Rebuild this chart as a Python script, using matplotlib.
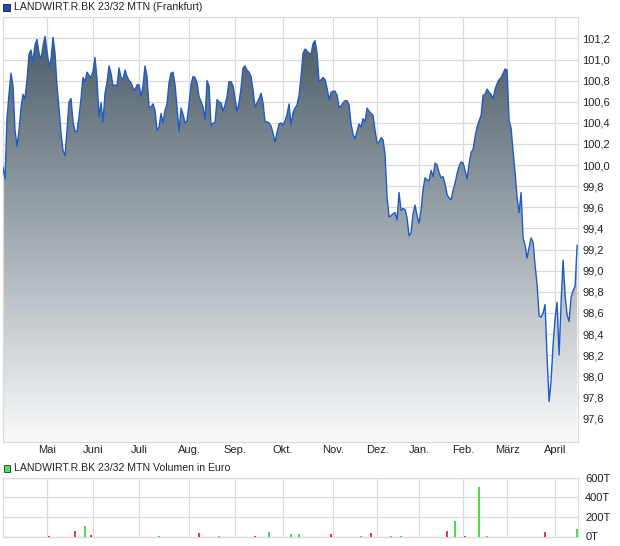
import numpy as np
import matplotlib
matplotlib.use("Agg")
import matplotlib.pyplot as plt
from matplotlib.patches import Rectangle

plt.rcParams['font.family'] = ['Liberation Sans', 'DejaVu Sans']

# ---------------- data ----------------
title_main = "LANDWIRT.R.BK 23/32 MTN (Frankfurt)"
title_vol = "LANDWIRT.R.BK 23/32 MTN Volumen in Euro"

price = [
    # Apr - May
    99.98, 99.87, 100.44, 100.67, 100.87, 100.75, 100.33, 100.18, 100.33, 100.54,
    100.67, 100.63, 100.81, 101.05, 101.09, 100.98, 101.14, 101.19, 101.06, 101.00,
    101.13, 101.22, 101.08, 100.94, 101.00, 101.21, 101.06, 100.75, 100.54, 100.30,
    100.14, 100.09, 100.33, 100.60, 100.63, 100.41, 100.32, 100.32, 100.46, 100.63,
    100.83, 100.79, 100.88, 100.85, 100.83, 100.89, 101.02, 100.81, 100.46,
    # Jun - Aug
    100.59, 100.41, 100.68, 100.78, 100.94, 100.87, 100.75, 100.76, 100.75, 100.92,
    100.83, 100.81, 100.90, 100.84, 100.80, 100.78, 100.73, 100.71, 100.76, 100.76,
    100.65, 100.75, 100.94, 100.84, 100.55, 100.55, 100.58, 100.52, 100.33, 100.36,
    100.49, 100.40, 100.52, 100.58, 100.78, 100.87, 100.88, 100.76, 100.55, 100.32,
    100.54, 100.48, 100.40, 100.42, 100.58, 100.76, 100.84, 100.83, 100.78, 100.65,
    # Aug - Oct
    100.60, 100.55, 100.43, 100.80, 100.75, 100.37, 100.40, 100.40, 100.62, 100.60,
    100.59, 100.51, 100.57, 100.65, 100.79, 100.79, 100.75, 100.63, 100.51, 100.59,
    100.73, 100.92, 100.94, 100.90, 100.88, 100.84, 100.71, 100.55, 100.59, 100.63,
    100.68, 100.59, 100.41, 100.41, 100.40, 100.37, 100.30, 100.22, 100.31, 100.39,
    100.40, 100.38, 100.42, 100.48, 100.58, 100.38, 100.50, 100.54, 100.57, 100.66,
    # Oct - Dec
    100.84, 101.06, 101.10, 101.08, 101.06, 101.05, 101.15, 101.18, 101.06, 100.79,
    100.81, 100.83, 100.81, 100.73, 100.62, 100.69, 100.70, 100.70, 100.66, 100.55,
    100.56, 100.59, 100.61, 100.61, 100.57, 100.39, 100.29, 100.25, 100.32, 100.39,
    100.36, 100.44, 100.41, 100.54, 100.51, 100.49, 100.47, 100.33, 100.21, 100.22,
    100.26, 100.24, 100.10, 99.70, 99.51, 99.52, 99.54, 99.55, 99.48, 99.74,
    # Dec - Feb
    99.57, 99.59, 99.58, 99.50, 99.33, 99.36, 99.54, 99.62, 99.52, 99.45,
    99.57, 99.77, 99.88, 99.86, 99.85, 99.95, 99.89, 100.02, 100.00, 99.93,
    99.88, 99.89, 99.82, 99.72, 99.69, 99.67, 99.76, 99.83, 99.92, 99.99,
    100.03, 100.02, 99.95, 99.87, 100.01, 100.12, 100.15, 100.27, 100.36, 100.42,
    100.47, 100.66, 100.67, 100.72, 100.69, 100.67, 100.63, 100.72, 100.77, 100.81,
    # Feb - Apr
    100.83, 100.87, 100.91, 100.90, 100.42, 100.35, 100.13, 99.93, 99.69, 99.55,
    99.74, 99.31, 99.24, 99.12, 99.22, 99.31, 99.27, 99.05, 98.87, 98.57,
    98.56, 98.60, 98.68, 98.18, 97.76, 97.96, 98.30, 98.55, 98.70, 98.20,
    98.70, 99.10, 98.77, 98.58, 98.52, 98.75, 98.81, 98.85, 99.24,
]

month_labels = ["Mai", "Juni", "Juli", "Aug.", "Sep.", "Okt.", "Nov.",
                "Dez.", "Jan.", "Feb.", "März", "April"]
month_pos = [22, 45, 68, 93, 116, 140, 165, 187, 208, 230, 252, 276]

price_ticks = [97.6, 97.8, 98.0, 98.2, 98.4, 98.6, 98.8, 99.0, 99.2, 99.4,
               99.6, 99.8, 100.0, 100.2, 100.4, 100.6, 100.8, 101.0, 101.2]

vol_day = [23, 36, 41, 44, 78, 98, 108, 126, 133, 144, 148, 164, 179, 184,
           194, 199, 222, 226, 231, 238, 242, 271, 287]
vol_val = [2, 51, 103, 14, 3, 31, 3, 10, 41, 21, 21, 21, 3, 31,
           3, 10, 51, 154, 5, 504, 2, 41, 72]          # thousand euro
vol_up = [0, 0, 1, 0, 1, 0, 1, 0, 1, 1, 1, 0, 1, 0,
          1, 1, 0, 1, 0, 1, 1, 0, 1]
vol_ticks = [0, 200, 400, 600]
vol_ticklabels = ["0T", "200T", "400T", "600T"]

# ---------------- figure ----------------
W, H = 620, 546
fig = plt.figure(figsize=(W / 100, H / 100), dpi=100)
fig.patch.set_facecolor("white")

grid_c = "#dadada"
text_c = "#222222"
line_c = "#1f5bc6"
fs = 8

x = np.arange(len(price))
y = np.array(price)
xmin, xmax = -0.15, 287.6
ymin, ymax = 97.38, 101.4

ax = fig.add_axes([2.7 / W, 1 - 441.7 / H, 575.6 / W, (441.7 - 17.3) / H])
ax.set_xlim(xmin, xmax)
ax.set_ylim(ymin, ymax)

# gradient fill clipped to area under the line
top_c = np.array([68, 86, 98]) / 255.0
bot_c = np.array([249, 250, 251]) / 255.0
t = np.linspace(0, 1, 256)[:, None]
grad = (top_c[None, :] * (1 - t) + bot_c[None, :] * t)[:, None, :]
poly = ax.fill_between(x, y, ymin, color="none", lw=0)
im = ax.imshow(grad, extent=[xmin, xmax, ymin, ymax], origin="upper",
               aspect="auto", zorder=2, interpolation="bilinear")
im.set_clip_path(poly.get_paths()[0], transform=ax.transData)
ax.plot(x, y, color=line_c, lw=1.0, zorder=3)

ax.set_yticks(price_ticks)
ax.set_yticklabels([f"{v:.1f}".replace(".", ",") for v in price_ticks])
ax.set_xticks(month_pos)
ax.set_xticklabels(month_labels)
ax.yaxis.tick_right()
ax.tick_params(axis="y", length=0, pad=3, labelsize=fs, colors=text_c)
ax.tick_params(axis="x", length=0, pad=2.5, labelsize=fs, colors=text_c)
ax.grid(True, color=grid_c, lw=0.9, zorder=0)
ax.set_axisbelow(True)
for s in ax.spines.values():
    s.set_color(grid_c)
    s.set_linewidth(0.9)

# ---------------- volume ----------------
av = fig.add_axes([2.7 / W, 1 - 536.5 / H, 575.6 / W, (536.5 - 477.5) / H])
av.set_xlim(xmin, xmax)
av.set_ylim(0, 600)
cols = ["#4cdc4c" if u else "#e23c3c" for u in vol_up]
av.bar(vol_day, vol_val, width=0.6, color=cols, linewidth=0, antialiased=False, zorder=3)
av.set_yticks(vol_ticks)
av.set_yticklabels(vol_ticklabels)
av.set_xticks(month_pos)
av.set_xticklabels([])
av.yaxis.tick_right()
av.tick_params(axis="y", length=0, pad=5, labelsize=fs, colors=text_c)
av.tick_params(axis="x", length=0)
av.grid(True, color=grid_c, lw=0.9, zorder=0)
av.set_axisbelow(True)
for s in av.spines.values():
    s.set_color(grid_c)
    s.set_linewidth(0.9)

# ---------------- legend titles ----------------
fig.add_artist(Rectangle((3 / W, 1 - 10.5 / H), 7 / W, 7 / H, transform=fig.transFigure,
                         facecolor="#1f4fa8", edgecolor="#1a2a50", lw=0.7))
fig.text(14.5 / W, 1 - 7 / H, title_main, fontsize=7.6, color=text_c, va="center", ha="left")

fig.add_artist(Rectangle((3.5 / W, 1 - 471.5 / H), 7 / W, 7 / H, transform=fig.transFigure,
                         facecolor="#55dd55", edgecolor="#2a5a2a", lw=0.7))
fig.text(14.5 / W, 1 - 468 / H, title_vol, fontsize=7.6, color=text_c, va="center", ha="left")

fig.savefig("out.png", dpi=100)
